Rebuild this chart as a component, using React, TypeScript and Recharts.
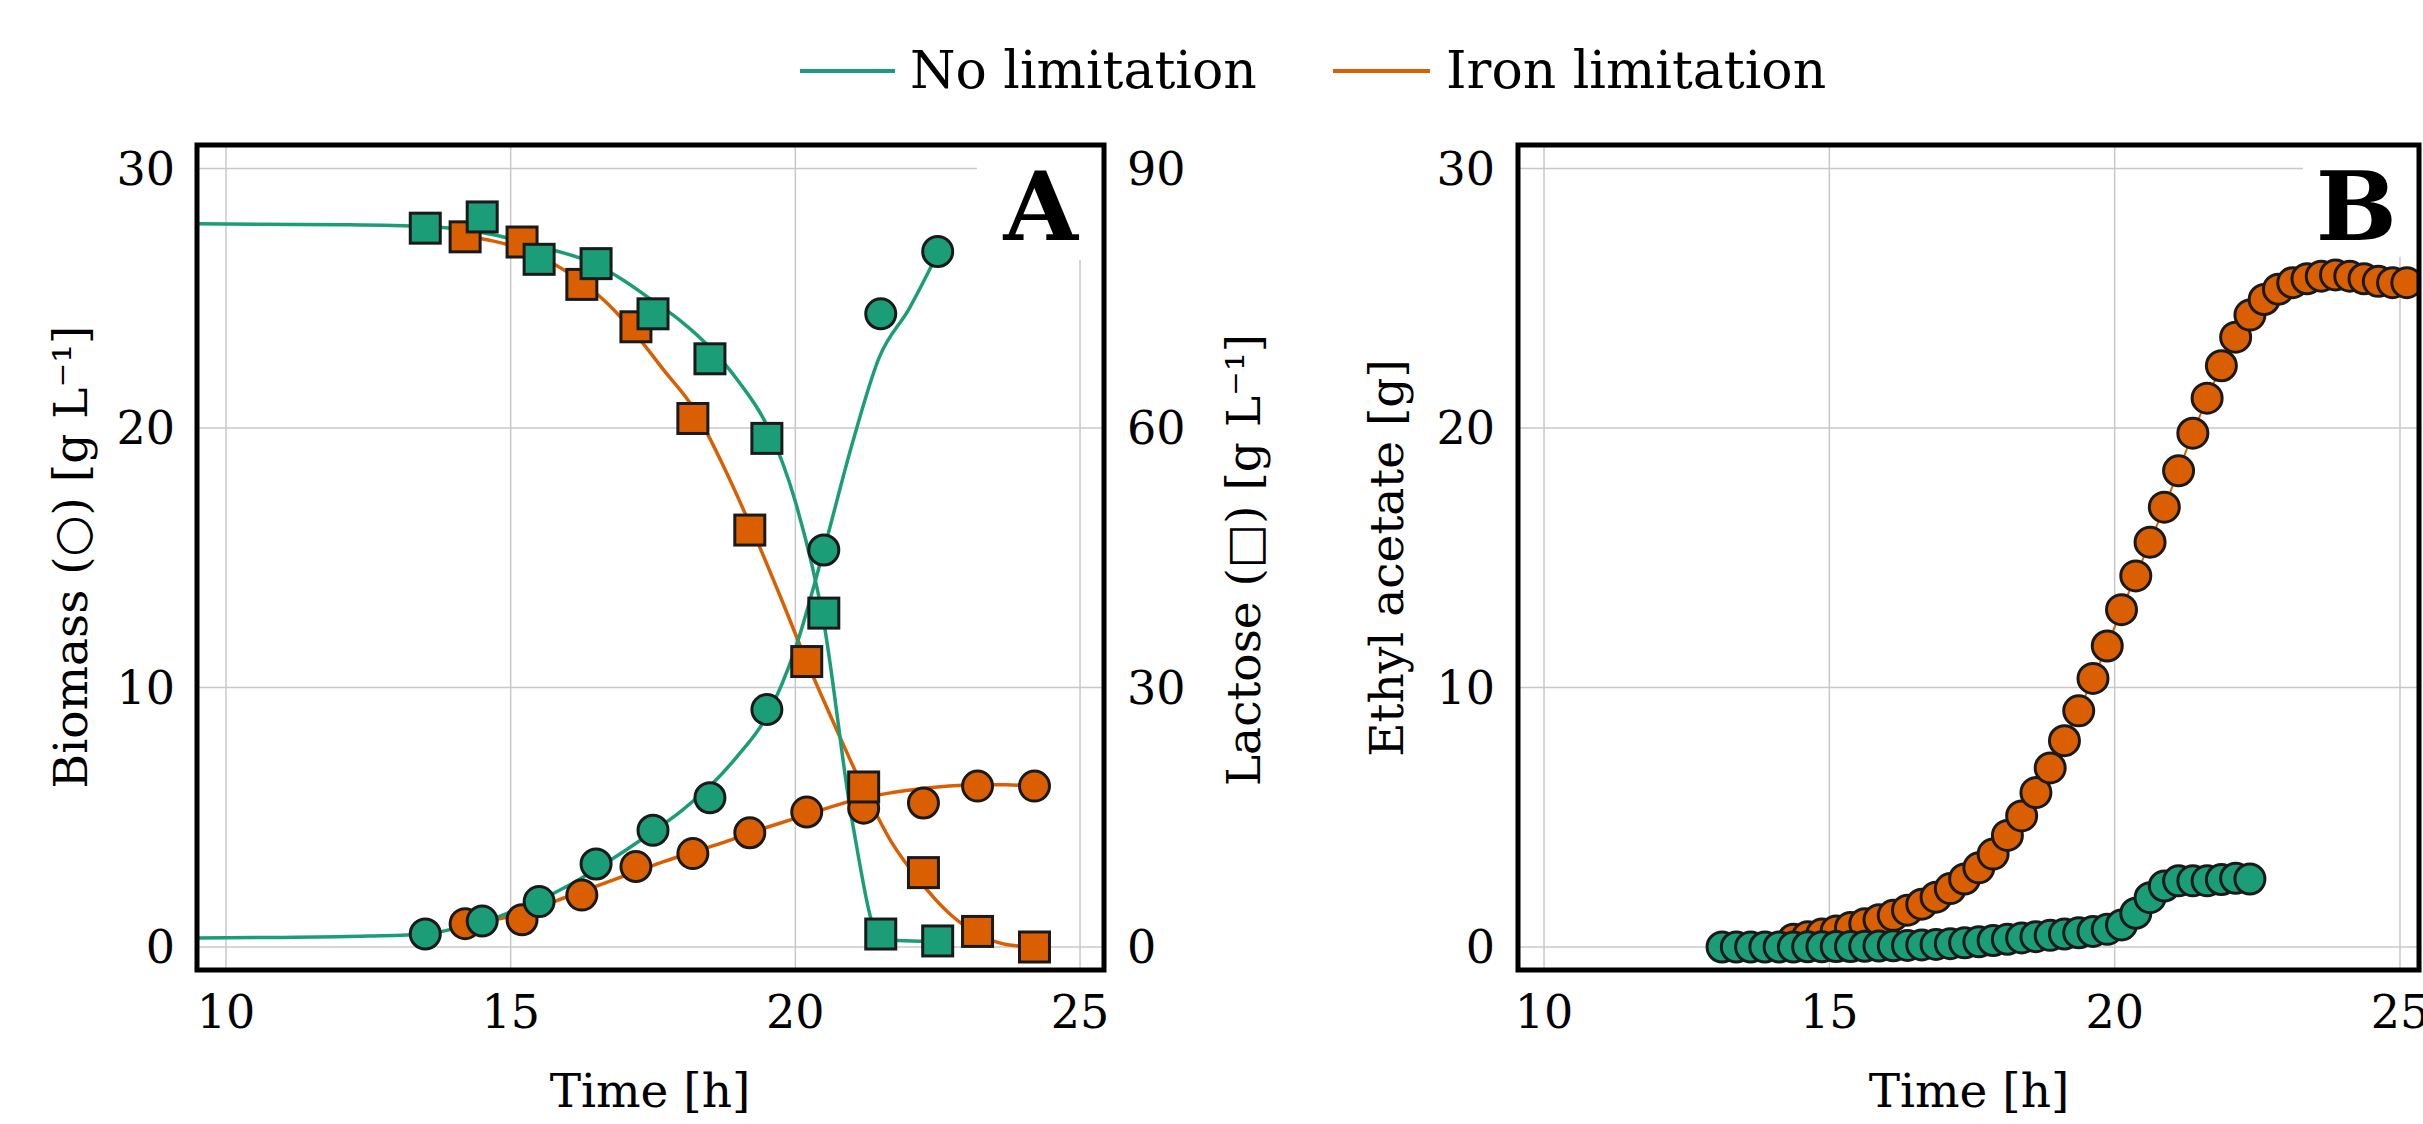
import { ComposedChart, Line, Scatter, XAxis, YAxis, CartesianGrid, ReferenceArea } from 'recharts';

const GREEN = '#1b9e77';
const ORANGE = '#d95f02';
const EDGE = '#1a1a1a';
const GRID = '#c8c8c8';
const FONT = "'DejaVu Serif', serif";

// panel A: measured points
const noLimT = [13.5, 14.5, 15.5, 16.5, 17.5, 18.5, 19.5, 20.5, 21.5, 22.5];
const noLimBiomass = [0.5, 1.0, 1.75, 3.2, 4.5, 5.75, 9.15, 15.3, 24.4, 26.8];
const noLimLactose = [83.1, 84.4, 79.5, 79.0, 73.2, 68.0, 58.8, 38.6, 1.5, 0.7];

const ironT = [14.2, 15.2, 16.25, 17.2, 18.2, 19.2, 20.2, 21.2, 22.25, 23.2, 24.2];
const ironBiomass = [0.9, 1.05, 2.0, 3.1, 3.6, 4.4, 5.2, 5.35, 5.55, 6.2, 6.2];
const ironLactose = [82.1, 81.5, 76.6, 71.7, 61.1, 48.2, 33.0, 18.5, 8.6, 1.8, 0.0];

// panel A: model curves
const noLimBiomassFitT = [9.49, 11, 12.5, 13.5, 14, 14.5, 15, 15.5, 16, 16.5, 17, 17.5, 18, 18.5, 19, 19.5, 20, 20.5, 21, 21.47, 22, 22.45];
const noLimBiomassFit = [0.35, 0.37, 0.42, 0.5, 0.7, 0.95, 1.35, 1.8, 2.35, 3.0, 3.7, 4.45, 5.25, 6.2, 7.4, 8.9, 11.5, 15.3, 19.4, 22.7, 24.6, 26.5];
const noLimLactoseFitT = [9.49, 12, 13.5, 14.5, 15.5, 16.5, 17, 17.5, 18, 18.5, 19, 19.5, 20, 20.5, 21, 21.5, 22.5];
const noLimLactoseFit = [83.6, 83.5, 83.3, 82.6, 81.0, 78.9, 77.0, 74.7, 72.3, 69.3, 65.4, 60.3, 51.5, 37.5, 14.5, 0.9, 0.6];

const ironFitT = [14.2, 14.7, 15.2, 15.7, 16.2, 16.7, 17.2, 17.7, 18.2, 18.7, 19.2, 19.7, 20.2, 20.7, 21.2, 21.7, 22.2, 22.7, 23.2, 23.7, 24.2];
const ironBiomassFit = [0.9, 1.05, 1.3, 1.7, 2.1, 2.5, 2.9, 3.3, 3.65, 4.0, 4.4, 4.75, 5.1, 5.45, 5.75, 5.95, 6.1, 6.2, 6.25, 6.25, 6.2];
const ironLactoseFit = [82.2, 81.6, 80.7, 79.2, 77.1, 74.4, 70.8, 66.6, 62.4, 56.1, 48.9, 41.1, 33.0, 25.5, 18.3, 12.0, 7.5, 3.9, 1.5, 0.3, 0.0];

// panel B: ethyl acetate
const eaNoLimT = [13.12, 13.37, 13.62, 13.87, 14.12, 14.37, 14.62, 14.87, 15.12, 15.37, 15.62, 15.87, 16.12, 16.37, 16.62, 16.87, 17.12, 17.37, 17.62, 17.87, 18.12, 18.37, 18.62, 18.87, 19.12, 19.37, 19.62, 19.87, 20.12, 20.37, 20.62, 20.87, 21.12, 21.37, 21.62, 21.87, 22.12, 22.37];
const eaNoLim = [0, 0, 0, 0, 0, 0, 0.01, 0.01, 0.02, 0.02, 0.03, 0.04, 0.05, 0.06, 0.08, 0.1, 0.13, 0.16, 0.2, 0.25, 0.3, 0.35, 0.4, 0.45, 0.5, 0.55, 0.6, 0.68, 0.85, 1.3, 1.9, 2.35, 2.55, 2.55, 2.55, 2.6, 2.65, 2.62];
const eaIronT = [14.37, 14.62, 14.87, 15.12, 15.37, 15.62, 15.87, 16.12, 16.37, 16.62, 16.87, 17.12, 17.37, 17.62, 17.87, 18.12, 18.37, 18.62, 18.87, 19.12, 19.37, 19.62, 19.87, 20.12, 20.37, 20.62, 20.87, 21.12, 21.37, 21.62, 21.87, 22.12, 22.37, 22.62, 22.87, 23.12, 23.37, 23.62, 23.87, 24.12, 24.37, 24.62, 24.87, 25.12];
const eaIron = [0.3, 0.4, 0.5, 0.62, 0.75, 0.9, 1.05, 1.22, 1.42, 1.65, 1.92, 2.25, 2.62, 3.05, 3.58, 4.3, 5.05, 5.95, 6.9, 7.95, 9.1, 10.35, 11.6, 13.0, 14.3, 15.6, 16.95, 18.35, 19.8, 21.15, 22.4, 23.5, 24.35, 24.95, 25.35, 25.6, 25.75, 25.85, 25.9, 25.85, 25.75, 25.65, 25.6, 25.6];

const timeTicks = [10, 15, 20, 25];
const leftTicks = [0, 10, 20, 30];
const lactoseTicks = [0, 30, 60, 90];

const pts = (t: number[], v: number[]) => t.map((x, i) => ({ t: x, v: v[i] }));

const tickStyle = { fill: '#000', fontSize: 46, fontFamily: FONT };

const circle = (fill: string) => (p: any) => (
    <circle cx={p.cx} cy={p.cy} r={15} fill={fill} stroke={EDGE} strokeWidth={3} />
);
const square = (fill: string) => (p: any) => (
    <rect x={p.cx - 15} y={p.cy - 15} width={30} height={30} fill={fill} stroke={EDGE} strokeWidth={3} />
);
const dotCircle = (fill: string) => (p: any) => (
    <circle key={p.index} cx={p.cx} cy={p.cy} r={15} fill={fill} stroke={EDGE} strokeWidth={3} />
);

const yDomain: [number, number] = [-0.886, 30.905];

const PanelA = () => (
    <ComposedChart width={1300} height={1124} margin={{ top: 145, left: 77, right: 46, bottom: 54 }}>
        <CartesianGrid yAxisId="left" stroke={GRID} strokeWidth={1.5} />
        <XAxis type="number" dataKey="t" domain={[9.491, 25.421]} ticks={timeTicks} allowDataOverflow interval={0}
            height={100} tickSize={0} tickMargin={25} tickLine={false} axisLine={false} tick={tickStyle} />
        <YAxis yAxisId="left" type="number" domain={yDomain} ticks={leftTicks} allowDataOverflow interval={0}
            width={120} tickSize={0} tickMargin={22} tickLine={false} axisLine={false} tick={tickStyle} />
        <YAxis yAxisId="right" orientation="right" type="number" domain={[-2.659, 92.716]} ticks={lactoseTicks}
            allowDataOverflow interval={0} width={150} tickSize={0} tickMargin={23} tickLine={false} axisLine={false} tick={tickStyle} />
        <ReferenceArea yAxisId="left" x1={23.19} x2={25.421} y1={26.47} y2={30.905} fill="#fff" fillOpacity={1} stroke="none" ifOverflow="visible" />
        <Line yAxisId="left" data={pts(ironFitT, ironBiomassFit)} dataKey="v" type="monotone" stroke={ORANGE} strokeWidth={3.5} dot={false} isAnimationActive={false} />
        <Line yAxisId="right" data={pts(ironFitT, ironLactoseFit)} dataKey="v" type="monotone" stroke={ORANGE} strokeWidth={3.5} dot={false} isAnimationActive={false} />
        <Scatter yAxisId="left" data={pts(ironT, ironBiomass)} dataKey="v" shape={circle(ORANGE)} isAnimationActive={false} />
        <Scatter yAxisId="right" data={pts(ironT, ironLactose)} dataKey="v" shape={square(ORANGE)} isAnimationActive={false} />
        <Line yAxisId="left" data={pts(noLimBiomassFitT, noLimBiomassFit)} dataKey="v" type="monotone" stroke={GREEN} strokeWidth={3.5} dot={false} isAnimationActive={false} />
        <Line yAxisId="right" data={pts(noLimLactoseFitT, noLimLactoseFit)} dataKey="v" type="monotone" stroke={GREEN} strokeWidth={3.5} dot={false} isAnimationActive={false} />
        <Scatter yAxisId="left" data={pts(noLimT, noLimBiomass)} dataKey="v" shape={circle(GREEN)} isAnimationActive={false} />
        <Scatter yAxisId="right" data={pts(noLimT, noLimLactose)} dataKey="v" shape={square(GREEN)} isAnimationActive={false} />
    </ComposedChart>
);

const PanelB = () => (
    <ComposedChart width={1123} height={1124} margin={{ top: 145, left: 98, right: 4, bottom: 54 }}>
        <CartesianGrid stroke={GRID} strokeWidth={1.5} />
        <XAxis type="number" dataKey="t" domain={[9.544, 25.333]} ticks={timeTicks} allowDataOverflow interval={0}
            height={100} tickSize={0} tickMargin={25} tickLine={false} axisLine={false} tick={tickStyle} />
        <YAxis type="number" domain={yDomain} ticks={leftTicks} allowDataOverflow interval={0}
            width={120} tickSize={0} tickMargin={23} tickLine={false} axisLine={false} tick={tickStyle} />
        <ReferenceArea x1={23.3} x2={25.333} y1={26.6} y2={30.905} fill="#fff" fillOpacity={1} stroke="none" ifOverflow="visible" />
        <Line data={pts(eaIronT, eaIron)} dataKey="v" type="linear" stroke={ORANGE} strokeWidth={2} dot={dotCircle(ORANGE)} isAnimationActive={false} />
        <Line data={pts(eaNoLimT, eaNoLim)} dataKey="v" type="linear" stroke={GREEN} strokeWidth={2} dot={dotCircle(GREEN)} isAnimationActive={false} />
    </ComposedChart>
);

export default function App() {
    return (
        <div style={{ position: 'absolute', left: 0, top: 0, width: 2423, height: 1124, overflow: 'hidden', background: '#fff' }}>
            <div style={{ position: 'absolute', left: 0, top: 0 }}>
                <PanelA />
            </div>
            <div style={{ position: 'absolute', left: 1300, top: 0 }}>
                <PanelB />
            </div>
            <svg width={2423} height={1124} style={{ position: 'absolute', left: 0, top: 0, pointerEvents: 'none' }} fontFamily={FONT}>
                <line x1={800} x2={895} y1={71} y2={71} stroke={GREEN} strokeWidth={4} />
                <text x={910} y={88} fontSize={52}>No limitation</text>
                <line x1={1333} x2={1430} y1={71} y2={71} stroke={ORANGE} strokeWidth={4} />
                <text x={1446} y={88} fontSize={52}>Iron limitation</text>

                <rect x={197} y={145} width={907} height={825} fill="none" stroke="#000" strokeWidth={5} />
                <rect x={1518} y={145} width={901} height={825} fill="none" stroke="#000" strokeWidth={5} />

                <text x={1078} y={240} fontSize={96} fontWeight="bold" textAnchor="end">A</text>
                <text x={2397} y={240} fontSize={96} fontWeight="bold" textAnchor="end">B</text>

                <text x={650} y={1107} fontSize={47} textAnchor="middle">Time [h]</text>
                <text x={1969} y={1107} fontSize={47} textAnchor="middle">Time [h]</text>

                <text transform="translate(70,557) rotate(-90)" fontSize={47} textAnchor="middle" dominantBaseline="central">Biomass (○) [g L⁻¹]</text>
                <text transform="translate(1243,560) rotate(-90)" fontSize={47} textAnchor="middle" dominantBaseline="central">Lactose (□) [g L⁻¹]</text>
                <text transform="translate(1386,558) rotate(-90)" fontSize={47} textAnchor="middle" dominantBaseline="central">Ethyl acetate [g]</text>
            </svg>
        </div>
    );
}
